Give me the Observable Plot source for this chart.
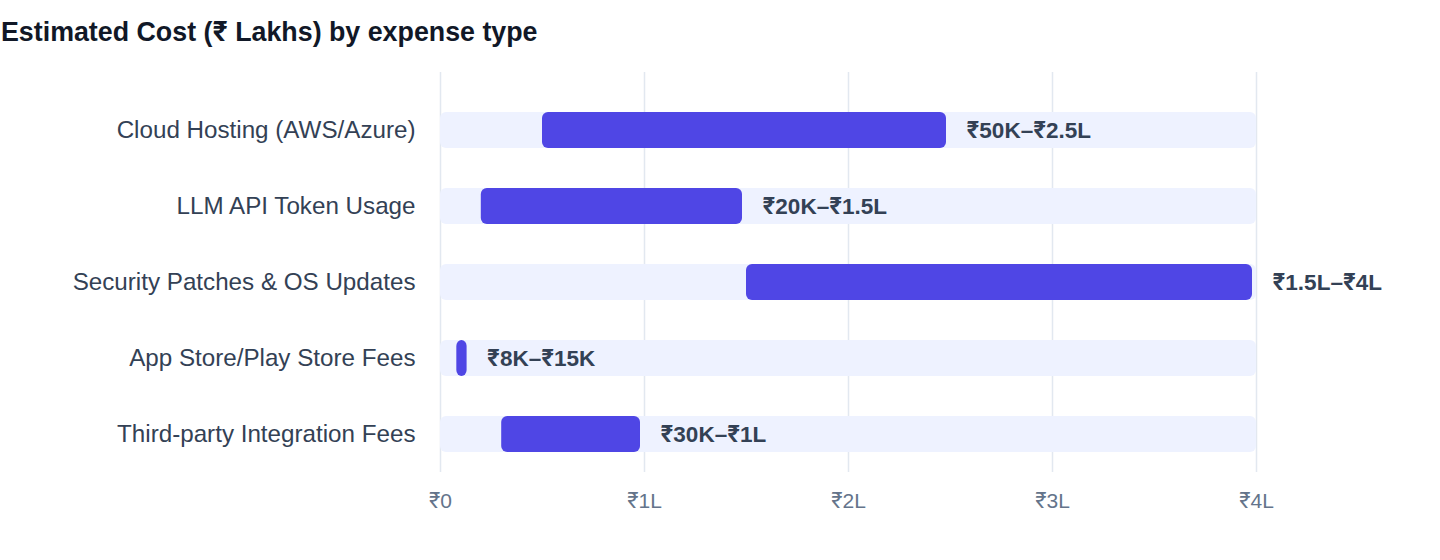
<!DOCTYPE html>
<html>
<head>
<meta charset="utf-8">
<script src="https://cdn.jsdelivr.net/npm/d3@7"></script>
<script src="https://cdn.jsdelivr.net/npm/@observablehq/plot@0.6"></script>
<style>
  html, body { margin: 0; padding: 0; background: #ffffff; }
  body { width: 1440px; height: 560px; overflow: hidden; font-family: "Liberation Sans", Inter, "DejaVu Sans", sans-serif; }
  #title { height: 42px; padding-top: 18px; padding-left: 1px; font-size: 26.8px; line-height: 28px; font-weight: 700; color: #111827; white-space: nowrap; }
  #chart svg { display: block; }
</style>
</head>
<body>
<div id="title">Estimated Cost (₹ Lakhs) by expense type</div>
<div id="chart"></div>
<script>
const categories = [
  "Cloud Hosting (AWS/Azure)",
  "LLM API Token Usage",
  "Security Patches & OS Updates",
  "App Store/Play Store Fees",
  "Third-party Integration Fees"
];
const lows  = [0.5, 0.2, 1.5, 0.08, 0.3];
const highs = [2.5, 1.5, 4.0, 0.15, 1.0];
const rangeLabels = ["₹50K–₹2.5L", "₹20K–₹1.5L", "₹1.5L–₹4L", "₹8K–₹15K", "₹30K–₹1L"];
const xTicks = [0, 1, 2, 3, 4];
const xMax = 4;

const rows = categories.map((c, i) => ({category: c, low: lows[i], high: highs[i], label: rangeLabels[i], max: xMax}));
const fmt = d => d === 0 ? "₹0" : "₹" + d + "L";

const chart = Plot.plot({
  width: 1440,
  height: 500,
  marginLeft: 440,
  marginRight: 184,
  marginTop: 32,
  marginBottom: 88,
  style: {fontFamily: '"Liberation Sans", Inter, "DejaVu Sans", sans-serif', background: "#ffffff"},
  x: {domain: [0, xMax], ticks: xTicks, tickFormat: fmt, label: null},
  y: {domain: categories, padding: 0, label: null},
  marks: [
    Plot.ruleX(xTicks, {stroke: "#e2e8f0", strokeWidth: 1.5, insetTop: -20}),
    Plot.barX(rows, {y: "category", x1: 0, x2: "max", fill: "#eef2ff", rx: 6, insetTop: 20, insetBottom: 20}),
    Plot.barX(rows, {y: "category", x1: "low", x2: "high", fill: "#4f46e5", rx: 6, insetTop: 20, insetBottom: 20, insetRight: 4}),
    Plot.text(rows, {y: "category", x: "high", text: "label", dx: 16, textAnchor: "start", fill: "#334155", fontWeight: 700, fontSize: 22.5}),
    Plot.axisY({tickSize: 0, tickPadding: 25, fontSize: 24.2, color: "#334155", label: null}),
    Plot.axisX({ticks: xTicks, tickFormat: fmt, tickSize: 0, tickPadding: 21, fontSize: 21, color: "#64748b", label: null})
  ]
});
document.getElementById("chart").appendChild(chart);
</script>
</body>
</html>
